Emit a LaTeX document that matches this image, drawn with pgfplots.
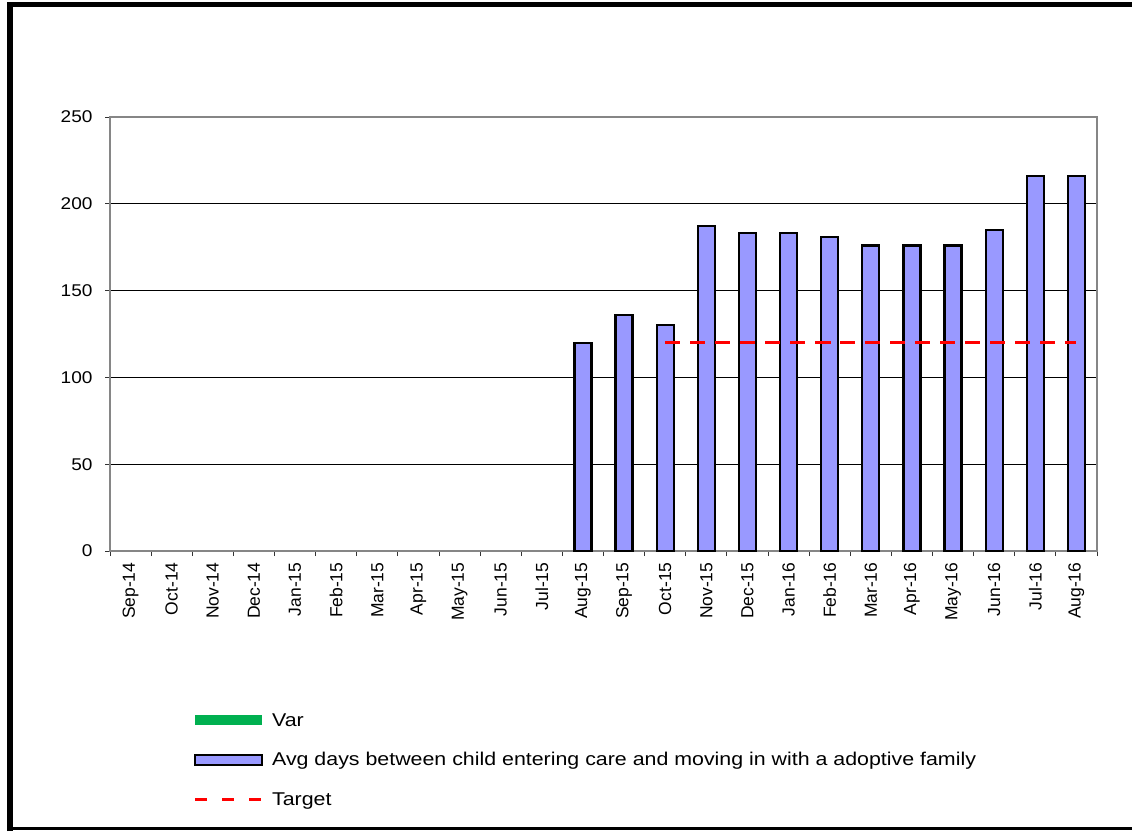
\documentclass[border=0pt]{standalone}
\usepackage{fontspec}
\setmainfont{Liberation Sans}
\newfontfamily\wide[FakeStretch=1.12]{Liberation Sans}
\newfontfamily\wider[FakeStretch=1.155]{Liberation Sans}
\usepackage{pgfplots}
\pgfplotsset{compat=1.18}
\definecolor{barblue}{HTML}{9999FF}
\definecolor{vargreen}{HTML}{00B050}
\definecolor{axisgray}{HTML}{868686}
\begin{document}
\begin{tikzpicture}[x=1pt,y=1pt]
\path[use as bounding box] (0,0) rectangle (1132,831);
% frame
\draw[line width=5.5pt] (10,0) -- (10,828.5);
\draw[line width=5pt] (7.25,826) -- (1132,826);
\draw[line width=3pt] (10,2.5) -- (1132,2.5);
\begin{axis}[
  at={(110pt,280pt)}, anchor=south west,
  scale only axis, width=987pt, height=434pt,
  xmin=-0.5, xmax=23.5, ymin=0, ymax=250,
  ytick={0,50,...,250},
  xtick={0,...,23},
  xticklabels={Sep-14,Oct-14,Nov-14,Dec-14,Jan-15,Feb-15,Mar-15,Apr-15,May-15,Jun-15,Jul-15,Aug-15,Sep-15,Oct-15,Nov-15,Dec-15,Jan-16,Feb-16,Mar-16,Apr-16,May-16,Jun-16,Jul-16,Aug-16},
  minor xtick={-0.5,0.5,...,23.5},
  major x tick style={draw=none},
  minor x tick style={draw=black!80, line width=1pt},
  y tick style={draw=black!80, line width=1pt},
  tick align=outside, major tick length=5pt, minor tick length=5pt,
  xtick pos=bottom, ytick pos=left,
  axis line style={draw=axisgray, line width=2pt},
  ymajorgrids, grid style={black, line width=0.9pt},
  /pgf/number format/assume math mode=true,
  yticklabel style={font=\wide\fontsize{17}{20}\selectfont, xshift=-9pt},
  xticklabel style={font=\fontsize{17.5}{20}\selectfont, rotate=90, anchor=east, xshift=-3pt},
  legend style={at={(0.081,-0.369)}, anchor=north west, draw=none, fill=none,
    font=\wider\fontsize{18.5}{22}\selectfont, row sep=21pt, inner sep=0pt,
    nodes={inner xsep=5pt}},
  legend cell align=left,
]
\addlegendimage{legend image code/.code={\draw[vargreen, line width=10pt] (0pt,0pt) -- (67pt,0pt);}}
\addplot[ybar, bar width=17pt, fill=barblue, draw=black, line width=2.2pt,
  legend image code/.code={\draw[fill=barblue, draw=black, line width=2.5pt] (0pt,-5pt) rectangle (67pt,5pt);}]
coordinates {
  (11,120) (12,136) (13,130) (14,187) (15,183) (16,183) (17,181)
  (18,176) (19,176) (20,176) (21,185) (22,216) (23,216)
};
\addplot[red, line width=3.5pt, dash pattern=on 15pt off 10pt,
  legend image code/.code={\draw[red, line width=3.5pt, dash pattern=on 12pt off 15pt] (0pt,0pt) -- (67pt,0pt);}]
coordinates {
  (13,120) (14,120) (15,120) (16,120) (17,120) (18,120)
  (19,120) (20,120) (21,120) (22,120) (23,120)
};
\legend{Var, Avg days between child entering care and moving in with a adoptive family, Target}
\end{axis}
\end{tikzpicture}
\end{document}
